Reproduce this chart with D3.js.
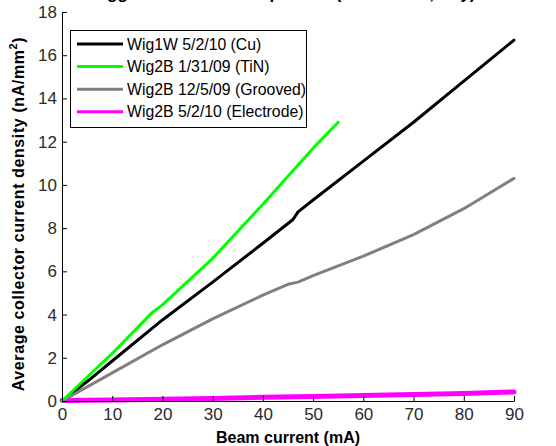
<!DOCTYPE html>
<html><head><meta charset="utf-8">
<script src="https://cdn.jsdelivr.net/npm/d3@7"></script>
<style>body{margin:0;background:#fff}svg{display:block}</style>
</head><body><svg id="c" width="556" height="446"></svg>
<script>
const seriesNames = ["Wig1W 5/2/10 (Cu)", "Wig2B 1/31/09 (TiN)", "Wig2B 12/5/09 (Grooved)", "Wig2B 5/2/10 (Electrode)"];
const seriesColors = ["#000000", "#00ff00", "#808080", "#ff00ff"];
const cuX = [0, 5, 10, 20, 30, 40, 46, 47, 50, 60, 70, 80, 90];
const cuY = [0, 0.9, 1.85, 3.75, 5.5, 7.3, 8.4, 8.75, 9.3, 11.1, 12.9, 14.8, 16.7];
const tinX = [0, 5, 10, 18, 20, 30, 40, 50, 55];
const tinY = [0, 1.1, 2.2, 4.1, 4.45, 6.6, 9.1, 11.7, 12.9];
const grX = [0, 10, 20, 30, 40, 45, 47, 50, 60, 70, 80, 90];
const grY = [0, 1.3, 2.6, 3.8, 4.9, 5.4, 5.5, 5.8, 6.7, 7.7, 8.9, 10.3];
const elX = [0, 10, 20, 30, 40, 50, 60, 70, 80, 90];
const elY = [0.02, 0.05, 0.08, 0.12, 0.17, 0.21, 0.26, 0.3, 0.35, 0.42];
const xTicks = [0, 10, 20, 30, 40, 50, 60, 70, 80, 90];
const yTicks = [0, 2, 4, 6, 8, 10, 12, 14, 16, 18];

const svg = d3.select("#c");
const L = 62, R = 514, T = 12, B = 401;
const x = d3.scaleLinear().domain([0, 90]).range([L, R]);
const y = d3.scaleLinear().domain([0, 18]).range([B, T]);
const font = "Liberation Sans, Arial, sans-serif";

const data = [
  {x: cuX, y: cuY, w: 3},
  {x: tinX, y: tinY, w: 3},
  {x: grX, y: grY, w: 3},
  {x: elX, y: elY, w: 5}
];
const line = d3.line().x(d => x(d[0])).y(d => y(d[1]));
// title (clipped at top, as in the original)
svg.append("text").attr("x", 281).attr("y", -1).attr("text-anchor", "middle")
  .attr("font-family", font).attr("font-weight", "bold").attr("font-size", 17)
  .text("Wiggler Chamber Comparison (Collector 1, Day)");

[3, 0, 2, 1].forEach(i => {
  const s = data[i];
  svg.append("path").datum(s.x.map((v, k) => [v, s.y[k]]))
    .attr("d", line).attr("fill", "none").attr("stroke", seriesColors[i])
    .attr("stroke-width", s.w).attr("stroke-linejoin", "round").attr("stroke-linecap", "round");
});

const xa = svg.append("g").attr("transform", `translate(0,${B})`)
  .call(d3.axisBottom(x).tickValues(xTicks).tickSizeInner(-5).tickSizeOuter(0).tickPadding(7));
const ya = svg.append("g").attr("transform", `translate(${L},0)`)
  .call(d3.axisLeft(y).tickValues(yTicks).tickSizeInner(-5).tickSizeOuter(0).tickPadding(5));
[xa, ya].forEach(a => {
  a.selectAll("path,line").attr("stroke", "#000").attr("stroke-width", 1);
  a.selectAll("text").attr("font-family", font).attr("font-size", 17).attr("fill", "#2a2a2a");
});

svg.append("text").attr("x", (L + R) / 2).attr("y", 443).attr("text-anchor", "middle")
  .attr("font-family", font).attr("font-weight", "bold").attr("font-size", 16).text("Beam current (mA)");
const yl = svg.append("text").attr("transform", `translate(24,214) rotate(-90)`)
  .attr("text-anchor", "middle").attr("font-family", font).attr("font-weight", "bold")
  .attr("font-size", 16).attr("letter-spacing", 0.6);
yl.append("tspan").text("Average collector current density (nA/mm");
yl.append("tspan").attr("dy", -7).attr("font-size", 11).text("2");
yl.append("tspan").attr("dy", 7).text(")");

// legend
const lg = svg.append("g");
lg.append("rect").attr("x", 70.5).attr("y", 30.5).attr("width", 236).attr("height", 97)
  .attr("fill", "#fff").attr("stroke", "#000").attr("stroke-width", 1);
seriesNames.forEach((n, i) => {
  const cy = 44 + i * 22.6;
  lg.append("line").attr("x1", 77).attr("x2", 123).attr("y1", cy).attr("y2", cy)
    .attr("stroke", seriesColors[i]).attr("stroke-width", 3);
  lg.append("text").attr("x", 127).attr("y", cy + 5.5).attr("font-family", font).attr("font-size", 15.8)
    .attr("fill", "#000").text(n);
});
</script></body></html>
